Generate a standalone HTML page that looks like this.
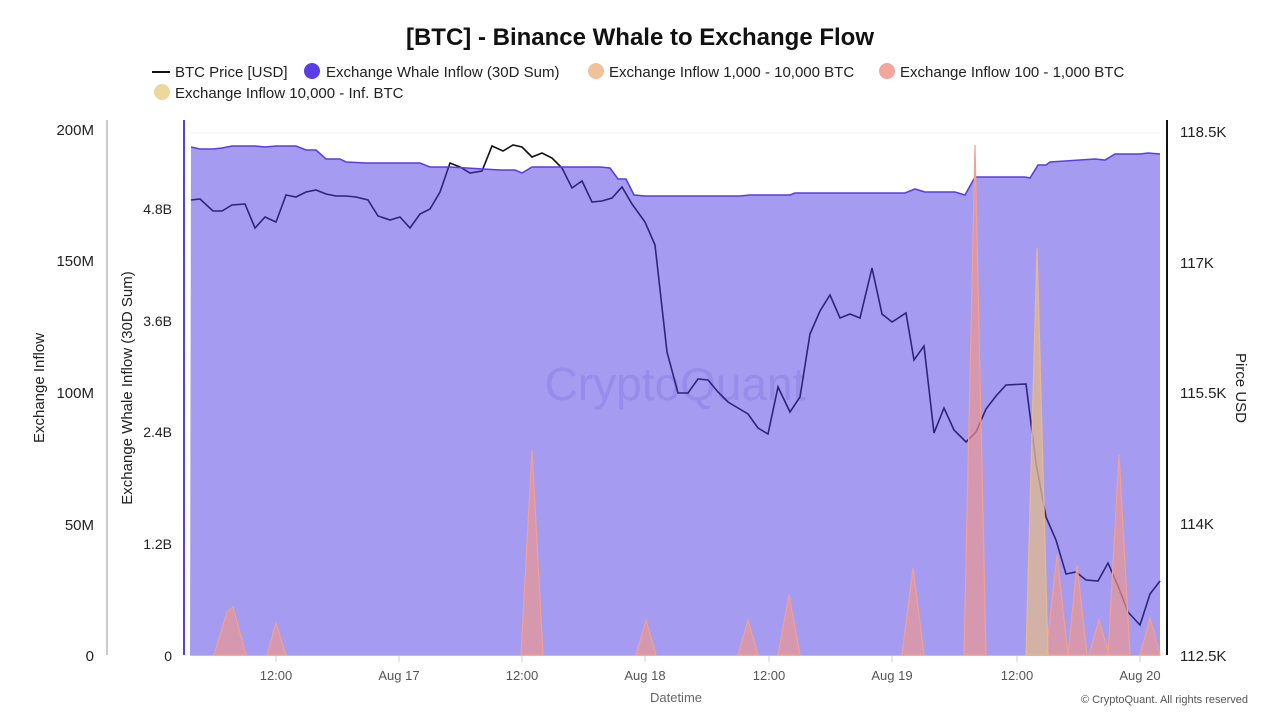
<!DOCTYPE html>
<html><head><meta charset="utf-8"><style>
body{margin:0;background:#fff;font-family:"Liberation Sans",sans-serif;}
</style></head><body>
<svg width="1280" height="720" xmlns="http://www.w3.org/2000/svg" font-family="Liberation Sans, sans-serif">
<text x="640" y="45" text-anchor="middle" font-size="24" font-weight="bold" fill="#111">[BTC] - Binance Whale to Exchange Flow</text>
<g font-size="15" fill="#222">
<line x1="152" y1="72" x2="170" y2="72" stroke="#111" stroke-width="2"/><text x="175" y="77">BTC Price [USD]</text>
<circle cx="312" cy="71" r="8" fill="#5a3de6"/><text x="326" y="77">Exchange Whale Inflow (30D Sum)</text>
<circle cx="596" cy="71" r="8" fill="#f0c29a"/><text x="609" y="77">Exchange Inflow 1,000 - 10,000 BTC</text>
<circle cx="887" cy="71" r="8" fill="#f3a69c"/><text x="900" y="77">Exchange Inflow 100 - 1,000 BTC</text>
<circle cx="162" cy="92" r="8" fill="#ecd89a"/><text x="175" y="98">Exchange Inflow 10,000 - Inf. BTC</text>
</g>
<line x1="190" y1="133" x2="1160" y2="133" stroke="#f0f0f0"/>
<text x="675" y="400" text-anchor="middle" font-size="46" fill="#8a80c0" opacity="0.25">CryptoQuant</text>
<polyline fill="none" stroke="#111" stroke-width="1.6" points="191,200 200,199 213,211 222,211 232,205 245,204 255,228 265,217 276,222 286,195 296,197 306,192 316,190 326,194 336,196 346,196 356,197 368,200 378,216 390,220 400,217 410,228 420,214 430,209 440,192 450,163 460,167 470,173 482,171 492,146 503,151 513,145 522,147 532,157 542,153 552,158 562,168 572,188 582,181 592,202 602,201 612,198 622,187 632,204 645,222 655,245 667,352 678,393 688,393 698,379 708,380 718,392 728,402 738,408 748,414 758,428 768,434 778,387 790,412 800,397 810,334 820,311 830,295 840,318 850,314 860,318 872,268 882,314 892,322 906,313 914,360 924,346 934,433 944,408 954,430 966,442 976,432 986,409 996,396 1006,385 1026,384 1036,463 1046,517 1056,540 1066,574 1076,572 1086,580 1098,581 1108,563 1118,586 1128,612 1140,625 1150,594 1160,581"/>
<polygon fill="rgba(76,58,228,0.5)" points="190,655 191,147 200,149 213,149 222,148 232,146 255,146 265,147 276,146 296,146 306,150 316,150 326,159 340,159 346,162 366,163 420,163 430,167 450,167 500,170 515,170 522,173 532,167 600,167 610,168 618,179 626,179 634,195 645,196 740,196 750,195 790,195 795,193 905,193 915,189 925,192 955,192 965,195 975,177 1025,177 1030,178 1038,165 1046,165 1050,162 1080,160 1095,159 1105,160 1115,154 1140,154 1148,153 1160,154 1160,655"/>
<polyline fill="none" stroke="#5a3de6" stroke-width="1.6" points="191,147 200,149 213,149 222,148 232,146 255,146 265,147 276,146 296,146 306,150 316,150 326,159 340,159 346,162 366,163 420,163 430,167 450,167 500,170 515,170 522,173 532,167 600,167 610,168 618,179 626,179 634,195 645,196 740,196 750,195 790,195 795,193 905,193 915,189 925,192 955,192 965,195 975,177 1025,177 1030,178 1038,165 1046,165 1050,162 1080,160 1095,159 1105,160 1115,154 1140,154 1148,153 1160,154"/>
<g fill="rgba(240,150,140,0.65)" stroke="#f2a090" stroke-width="1.2">
<polygon points="214,655 227,612 233,607 246,655"/>
<polygon points="267,655 276,623 286,655"/>
<polygon points="521,655 532,450 543,655"/>
<polygon points="636,655 646,620 656,655"/>
<polygon points="738,655 748,620 758,655"/>
<polygon points="778,655 789,595 800,655"/>
<polygon points="902,655 913,568 924,655"/>
<polygon points="964,655 975,145 986,655"/>
<polygon points="1046,655 1057,555 1068,655"/>
<polygon points="1068,655 1077,565 1087,655"/>
<polygon points="1089,655 1099,620 1109,655"/>
<polygon points="1108,655 1119,455 1130,655"/>
<polygon points="1140,655 1150,618 1160,655"/>
</g>
<polygon points="1026,655 1037,248 1048,655" fill="rgba(225,185,140,0.75)" stroke="#e8b890" stroke-width="1.2"/>
<line x1="190" y1="655.5" x2="1160" y2="655.5" stroke="#f0b0a0"/>
<line x1="184" y1="120" x2="184" y2="655" stroke="#5a3de6" stroke-width="2"/>
<line x1="107" y1="120" x2="107" y2="655" stroke="#ccc" stroke-width="2"/>
<line x1="1167" y1="120" x2="1167" y2="655" stroke="#111" stroke-width="2"/>
<g stroke="#ccc"><line x1="276" y1="656" x2="276" y2="662"/><line x1="399" y1="656" x2="399" y2="662"/><line x1="522" y1="656" x2="522" y2="662"/><line x1="645" y1="656" x2="645" y2="662"/><line x1="769" y1="656" x2="769" y2="662"/><line x1="892" y1="656" x2="892" y2="662"/><line x1="1017" y1="656" x2="1017" y2="662"/><line x1="1140" y1="656" x2="1140" y2="662"/></g>
<g font-size="13" fill="#555" text-anchor="middle"><text x="276" y="680">12:00</text><text x="399" y="680">Aug 17</text><text x="522" y="680">12:00</text><text x="645" y="680">Aug 18</text><text x="769" y="680">12:00</text><text x="892" y="680">Aug 19</text><text x="1017" y="680">12:00</text><text x="1140" y="680">Aug 20</text>
<text x="676" y="702" fill="#666">Datetime</text></g>
<text x="1248" y="703" text-anchor="end" font-size="11" fill="#555">© CryptoQuant. All rights reserved</text>
<g font-size="15" fill="#222" text-anchor="end"><text x="94" y="135">200M</text><text x="94" y="266">150M</text><text x="94" y="398">100M</text><text x="94" y="530">50M</text><text x="94" y="661">0</text></g>
<g font-size="14" fill="#222" text-anchor="end"><text x="172" y="214">4.8B</text><text x="172" y="326">3.6B</text><text x="172" y="437">2.4B</text><text x="172" y="549">1.2B</text><text x="172" y="661">0</text></g>
<g font-size="15" fill="#222"><text x="1180" y="137">118.5K</text><text x="1180" y="268">117K</text><text x="1180" y="398">115.5K</text><text x="1180" y="529">114K</text><text x="1180" y="661">112.5K</text></g>
<text transform="translate(44,388) rotate(-90)" text-anchor="middle" font-size="15" fill="#222">Exchange Inflow</text>
<text transform="translate(132,388) rotate(-90)" text-anchor="middle" font-size="15" fill="#222">Exchange Whale Inflow (30D Sum)</text>
<text transform="translate(1236,388) rotate(90)" text-anchor="middle" font-size="15" fill="#222">Pirce USD</text>
</svg>
</body></html>
